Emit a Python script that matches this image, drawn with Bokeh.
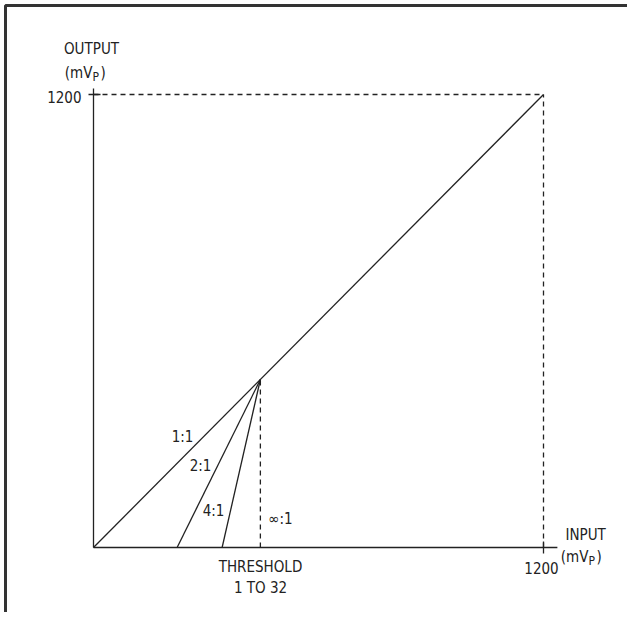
from bokeh.plotting import figure
from bokeh.models import Range1d
from bokeh.core.properties import value
from bokeh.embed import file_html
from bokeh.resources import INLINE

# ---- data (mVp) ----
full_scale = 1200
threshold = 445
axis_x_end = 1237
axis_y_end = 1216
ratio_labels = ["2:1", "4:1"]
ratio_x_intercepts = [223, 343]

W, H = 627, 612
FONT = "DejaVu Sans Condensed"
INK = "#222222"

# picture-pixel mapping: x=0 at px 93, x=1200 at px 543; y=0 at py 547, y=1200 at py 94
sx = 450 / 1200.0
sy = 453 / 1200.0
def X(px):
    return (px - 93) / sx
def Y(py):
    return (547 - py) / sy

p = figure(width=W, height=H, output_backend="svg", toolbar_location=None,
           x_range=Range1d(X(0), X(W)), y_range=Range1d(Y(H), Y(0)),
           min_border=0, outline_line_color=None)
p.axis.visible = False
p.grid.visible = False
p.background_fill_color = "white"
p.border_fill_color = "white"

# frame border (top and left)
p.line([X(5), X(5), X(700)], [Y(700), Y(5), Y(5)], line_color="#333333", line_width=3)

# axes
p.line([0, axis_x_end], [0, 0], line_color=INK, line_width=1.3)
p.line([0, 0], [0, axis_y_end], line_color=INK, line_width=1.3)
# ticks crossing the axes
p.line([X(88), X(100)], [full_scale, full_scale], line_color=INK, line_width=1.3)
p.line([full_scale, full_scale], [Y(541), Y(553)], line_color=INK, line_width=1.3)

# dashed full-scale guides
p.line([0, full_scale], [full_scale, full_scale], line_color=INK, line_width=1.3, line_dash="5 4")
p.line([full_scale, full_scale], [0, full_scale], line_color=INK, line_width=1.3, line_dash="5 4")
# threshold (inf:1)
p.line([threshold, threshold], [0, threshold], line_color=INK, line_width=1.3, line_dash="5 4")

# 1:1 line
p.line([0, full_scale], [0, full_scale], line_color=INK, line_width=1.3)
# expansion ratio lines
for x0 in ratio_x_intercepts:
    p.line([x0, threshold], [0, threshold], line_color=INK, line_width=1.3)

def txt(px, py, s, align="center", size=15, base="middle"):
    p.text(x=[X(px)], y=[Y(py)], text=[s], text_font=value(FONT),
           text_font_size=f"{size}px", text_align=align, text_baseline=base,
           text_color=INK)

txt(91, 48, "OUTPUT")
txt(92, 72, "(mV", align="right")
txt(92, 76, "P", align="left", size=12)
txt(100, 72, ")", align="left")
txt(81, 96, "1200", align="right")

txt(541, 567, "1200")
txt(565, 534, "INPUT", align="left")
txt(588, 556, "(mV", align="right")
txt(588, 560, "P", align="left", size=12)
txt(596, 556, ")", align="left")

txt(260, 566, "THRESHOLD")
txt(260, 587, "1 TO 32")

txt(182, 436, "1:1")
txt(200, 465, ratio_labels[0])
txt(213, 510, ratio_labels[1])
txt(280, 518, "\u221e:1")

open("out.html", "w").write(file_html(p, INLINE))
